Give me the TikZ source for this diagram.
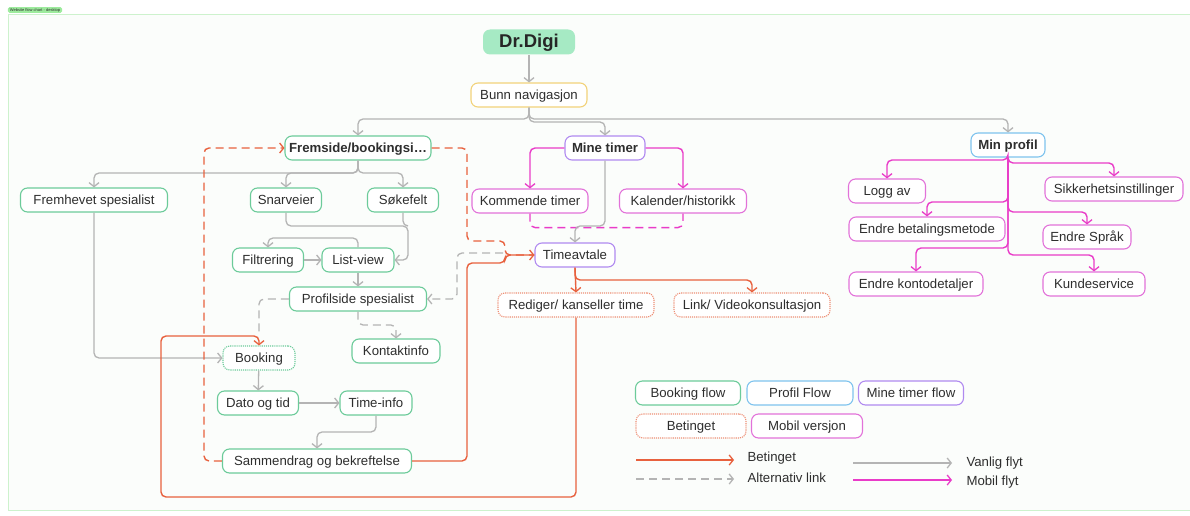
\documentclass[tikz,border=0pt]{standalone}
\usepackage{fontspec}
\setmainfont{Liberation Sans}
\usetikzlibrary{arrows.meta}

\definecolor{ink}{HTML}{2E2E2E}
\definecolor{framegreen}{HTML}{CDF2CD}
\definecolor{framefill}{HTML}{FBFDFB}
\definecolor{taggreen}{HTML}{9DEB9D}
\definecolor{bookgreen}{HTML}{6CCB9A}
\definecolor{digigreen}{HTML}{A6EAC4}
\definecolor{navyellow}{HTML}{F2D27A}
\definecolor{timepurple}{HTML}{B08AF0}
\definecolor{profblue}{HTML}{7EC3EE}
\definecolor{mobpink}{HTML}{E272D9}
\definecolor{mobline}{HTML}{E93CC8}
\definecolor{condorange}{HTML}{E8613E}
\definecolor{condlight}{HTML}{EE8E74}
\definecolor{flowgrey}{HTML}{B4B4B4}

\tikzset{
  txt/.style={font=\fontsize{13.2}{15}\selectfont, text=ink},
  box/.style={txt, draw, rounded corners=7pt, line width=1.1pt, minimum height=24pt, inner sep=2pt, text height=9.6pt, text depth=0.4pt, fill=white},
  bookbox/.style={box, draw=bookgreen},
  timebox/.style={box, draw=timepurple},
  profbox/.style={box, draw=profblue},
  mobbox/.style={box, draw=mobpink},
  navbox/.style={box, draw=navyellow},
  condbox/.style={box, draw=condlight, densely dotted},
  bookdot/.style={box, draw=bookgreen, densely dotted},
  head/.style={font=\fontsize{13.2}{15}\selectfont\bfseries},
  tip/.style={-{Straight Barb[length=4pt,width=10pt,line width=1.3pt]}},
  flow/.style={draw=flowgrey, line width=1.3pt, rounded corners=5pt, tip},
  alt/.style={flow, dash pattern=on 8pt off 5pt},
  cond/.style={draw=condorange, line width=1.4pt, rounded corners=5pt, tip},
  condalt/.style={cond, dash pattern=on 8pt off 5pt},
  mob/.style={draw=mobline, line width=1.4pt, rounded corners=5pt, tip},
  mobalt/.style={mob, dash pattern=on 8pt off 5pt},
}

\begin{document}
\begin{tikzpicture}[x=1pt, y=-1pt]
  \useasboundingbox (0,0) rectangle (1190,516);

  % frame
  \draw[framegreen, fill=framefill, line width=0.8pt] (8,14) rectangle (1195,510);
  \node[fill=taggreen, rounded corners=1.5pt, inner xsep=2pt, inner ysep=1pt, font=\fontsize{4}{4}\selectfont, text=ink] (tag) at (35,10) {Website flow chart - desktop};

  % top
  \node[box, draw=none, fill=digigreen, minimum width=92pt, minimum height=25pt, text height=13pt, text depth=1pt, font=\fontsize{18.5}{20}\selectfont\bfseries, text=black!85] (digi) at (529,42) {Dr.Digi};
  \node[navbox, minimum width=116pt] (nav) at (529,95) {Bunn navigasjon};

  \node[bookbox, head, minimum width=146pt] (front) at (358,148) {Fremside/bookingsi…};
  \node[timebox, head, minimum width=80pt] (timer) at (605,148) {Mine timer};
  \node[profbox, head, minimum width=74pt] (profil) at (1008,145) {Min profil};

  % booking flow
  \node[bookbox, minimum width=147pt] (featured) at (94,200) {Fremhevet spesialist};
  \node[bookbox, minimum width=71pt] (shortcut) at (286,200) {Snarveier};
  \node[bookbox, minimum width=71pt] (search) at (403,200) {Søkefelt};
  \node[bookbox, minimum width=71pt] (filter) at (268,260) {Filtrering};
  \node[bookbox, minimum width=72pt] (listview) at (358,260) {List-view};
  \node[bookbox, minimum width=137pt] (profile) at (358,299) {Profilside spesialist};
  \node[bookbox, minimum width=88pt] (contact) at (396,351) {Kontaktinfo};
  \node[bookdot, minimum width=72pt] (booking) at (259,358) {Booking};
  \node[bookbox, minimum width=81pt] (date) at (258,403) {Dato og tid};
  \node[bookbox, minimum width=72pt] (tinfo) at (376,403) {Time-info};
  \node[bookbox, minimum width=189pt] (summary) at (317,461) {Sammendrag og bekreftelse};

  % mine timer
  \node[mobbox, minimum width=116pt] (upcoming) at (530,201) {Kommende timer};
  \node[mobbox, minimum width=127pt] (calendar) at (683,201) {Kalender/historikk};
  \node[timebox, minimum width=80pt] (appt) at (575,255) {Timeavtale};
  \node[condbox, minimum width=156pt] (edit) at (576,305) {Rediger/ kanseller time};
  \node[condbox, minimum width=156pt] (link) at (752,305) {Link/ Videokonsultasjon};

  % min profil
  \node[mobbox, minimum width=77pt] (logout) at (887,191) {Logg av};
  \node[mobbox, minimum width=138pt] (security) at (1114,189) {Sikkerhetsinstillinger};
  \node[mobbox, minimum width=156pt] (payment) at (927,229) {Endre betalingsmetode};
  \node[mobbox, minimum width=88pt] (lang) at (1087,237) {Endre Språk};
  \node[mobbox, minimum width=134pt] (account) at (916,284) {Endre kontodetaljer};
  \node[mobbox, minimum width=102pt] (service) at (1094,284) {Kundeservice};

  % navigation
  \draw[flow] (digi) -- (nav);
  \draw[flow] (nav.south) -- (529,119) -| (front.north);
  \draw[flow] (nav.south) -- (529,119) -| (profil.north);
  \draw[flow] (nav.south) -- (529,122) -| (timer.north);

  % booking connectors
  \draw[flow] (front.south) -- (358,173) -| (featured.north);
  \draw[flow] (front.south) -- (358,173) -| (shortcut.north);
  \draw[flow] (front.south) -- (358,173) -| (search.north);
  \draw[flow] (featured.south) |- (booking.west);
  \draw[flow] (shortcut.south) |- (408,226) |- (listview.east);
  \draw[flow, -] (search.south) |- (408,226);
  \draw[flow] (listview.north) -- (358,238) -| (filter.north);
  \draw[flow] (filter) -- (listview);
  \draw[flow] (listview) -- (profile);
  \draw[alt, -] (profile.west) -| (259,336);
  \draw[alt] (profile.south) -- (358,325) -| (contact.north);
  \draw[flow] (booking) -- (date);
  \draw[flow] (date) -- (tinfo);
  \draw[flow] (tinfo.south) -- (376,432) -| (summary.north);

  % conditional links
  \draw[condalt] (summary.west) -- (204,461) |- (front.west);
  \draw[alt] (503,253) -- (457,253) |- (profile.east);
  \draw[cond, -] (summary.east) -| (467,263) -| (505,255) -- (appt.west);
  \draw[condalt] (front.east) -| (467,241) -| (505,255) -- (appt.west);
  \draw[cond] (edit.south) -- (576,497) -| (161,336) -| (booking.north);
  \draw[cond] (appt.south) -- (edit.north);
  \draw[cond] (appt.south) -- (575,280) -| (link.north);

  % mine timer connectors
  \draw[mob] (timer.west) -| (upcoming.north);
  \draw[mob] (timer.east) -| (calendar.north);
  \draw[mobalt, -] (upcoming.south) -- ++(0,14) -| (calendar.south);
  \draw[flow] (timer.south) -- (605,226) -| (appt.north);

  % min profil connectors
  \draw[mob] (profil.south) -- (1008,160) -| (logout.north);
  \draw[mob] (profil.south) -- (1008,163) -| (security.north);
  \draw[mob] (profil.south) -- (1008,202) -| (payment.north);
  \draw[mob] (profil.south) -- (1008,212) -| (lang.north);
  \draw[mob] (profil.south) -- (1008,248) -| (account.north);
  \draw[mob] (profil.south) -- (1008,255) -| (service.north);

  % legend
  \node[bookbox, minimum width=105pt] (legbook) at (688,393) {Booking flow};
  \node[profbox, minimum width=106pt] (legprof) at (800,393) {Profil Flow};
  \node[timebox, minimum width=105pt] (legtimer) at (911,393) {Mine timer flow};
  \node[condbox, minimum width=110pt] (legcond) at (691,426) {Betinget};
  \node[mobbox, minimum width=111pt] (legmob) at (807,426) {Mobil versjon};

  \coordinate (condA) at (636,460);
  \coordinate (condB) at (734,460);
  \coordinate (altA) at (636,479);
  \coordinate (altB) at (734,479);
  \coordinate (flowA) at (853,463);
  \coordinate (flowB) at (952,463);
  \coordinate (mobA) at (853,480);
  \coordinate (mobB) at (952,480);
  \draw[cond] (condA) -- (condB);
  \draw[alt] (altA) -- (altB);
  \draw[flow] (flowA) -- (flowB);
  \draw[mob] (mobA) -- (mobB);
  \node[txt, anchor=west] (condtext) at (744,458) {Betinget};
  \node[txt, anchor=west] (alttext) at (744,478) {Alternativ link};
  \node[txt, anchor=west] (flowtext) at (963,463) {Vanlig flyt};
  \node[txt, anchor=west] (mobtext) at (963,482) {Mobil flyt};
\end{tikzpicture}
\end{document}
